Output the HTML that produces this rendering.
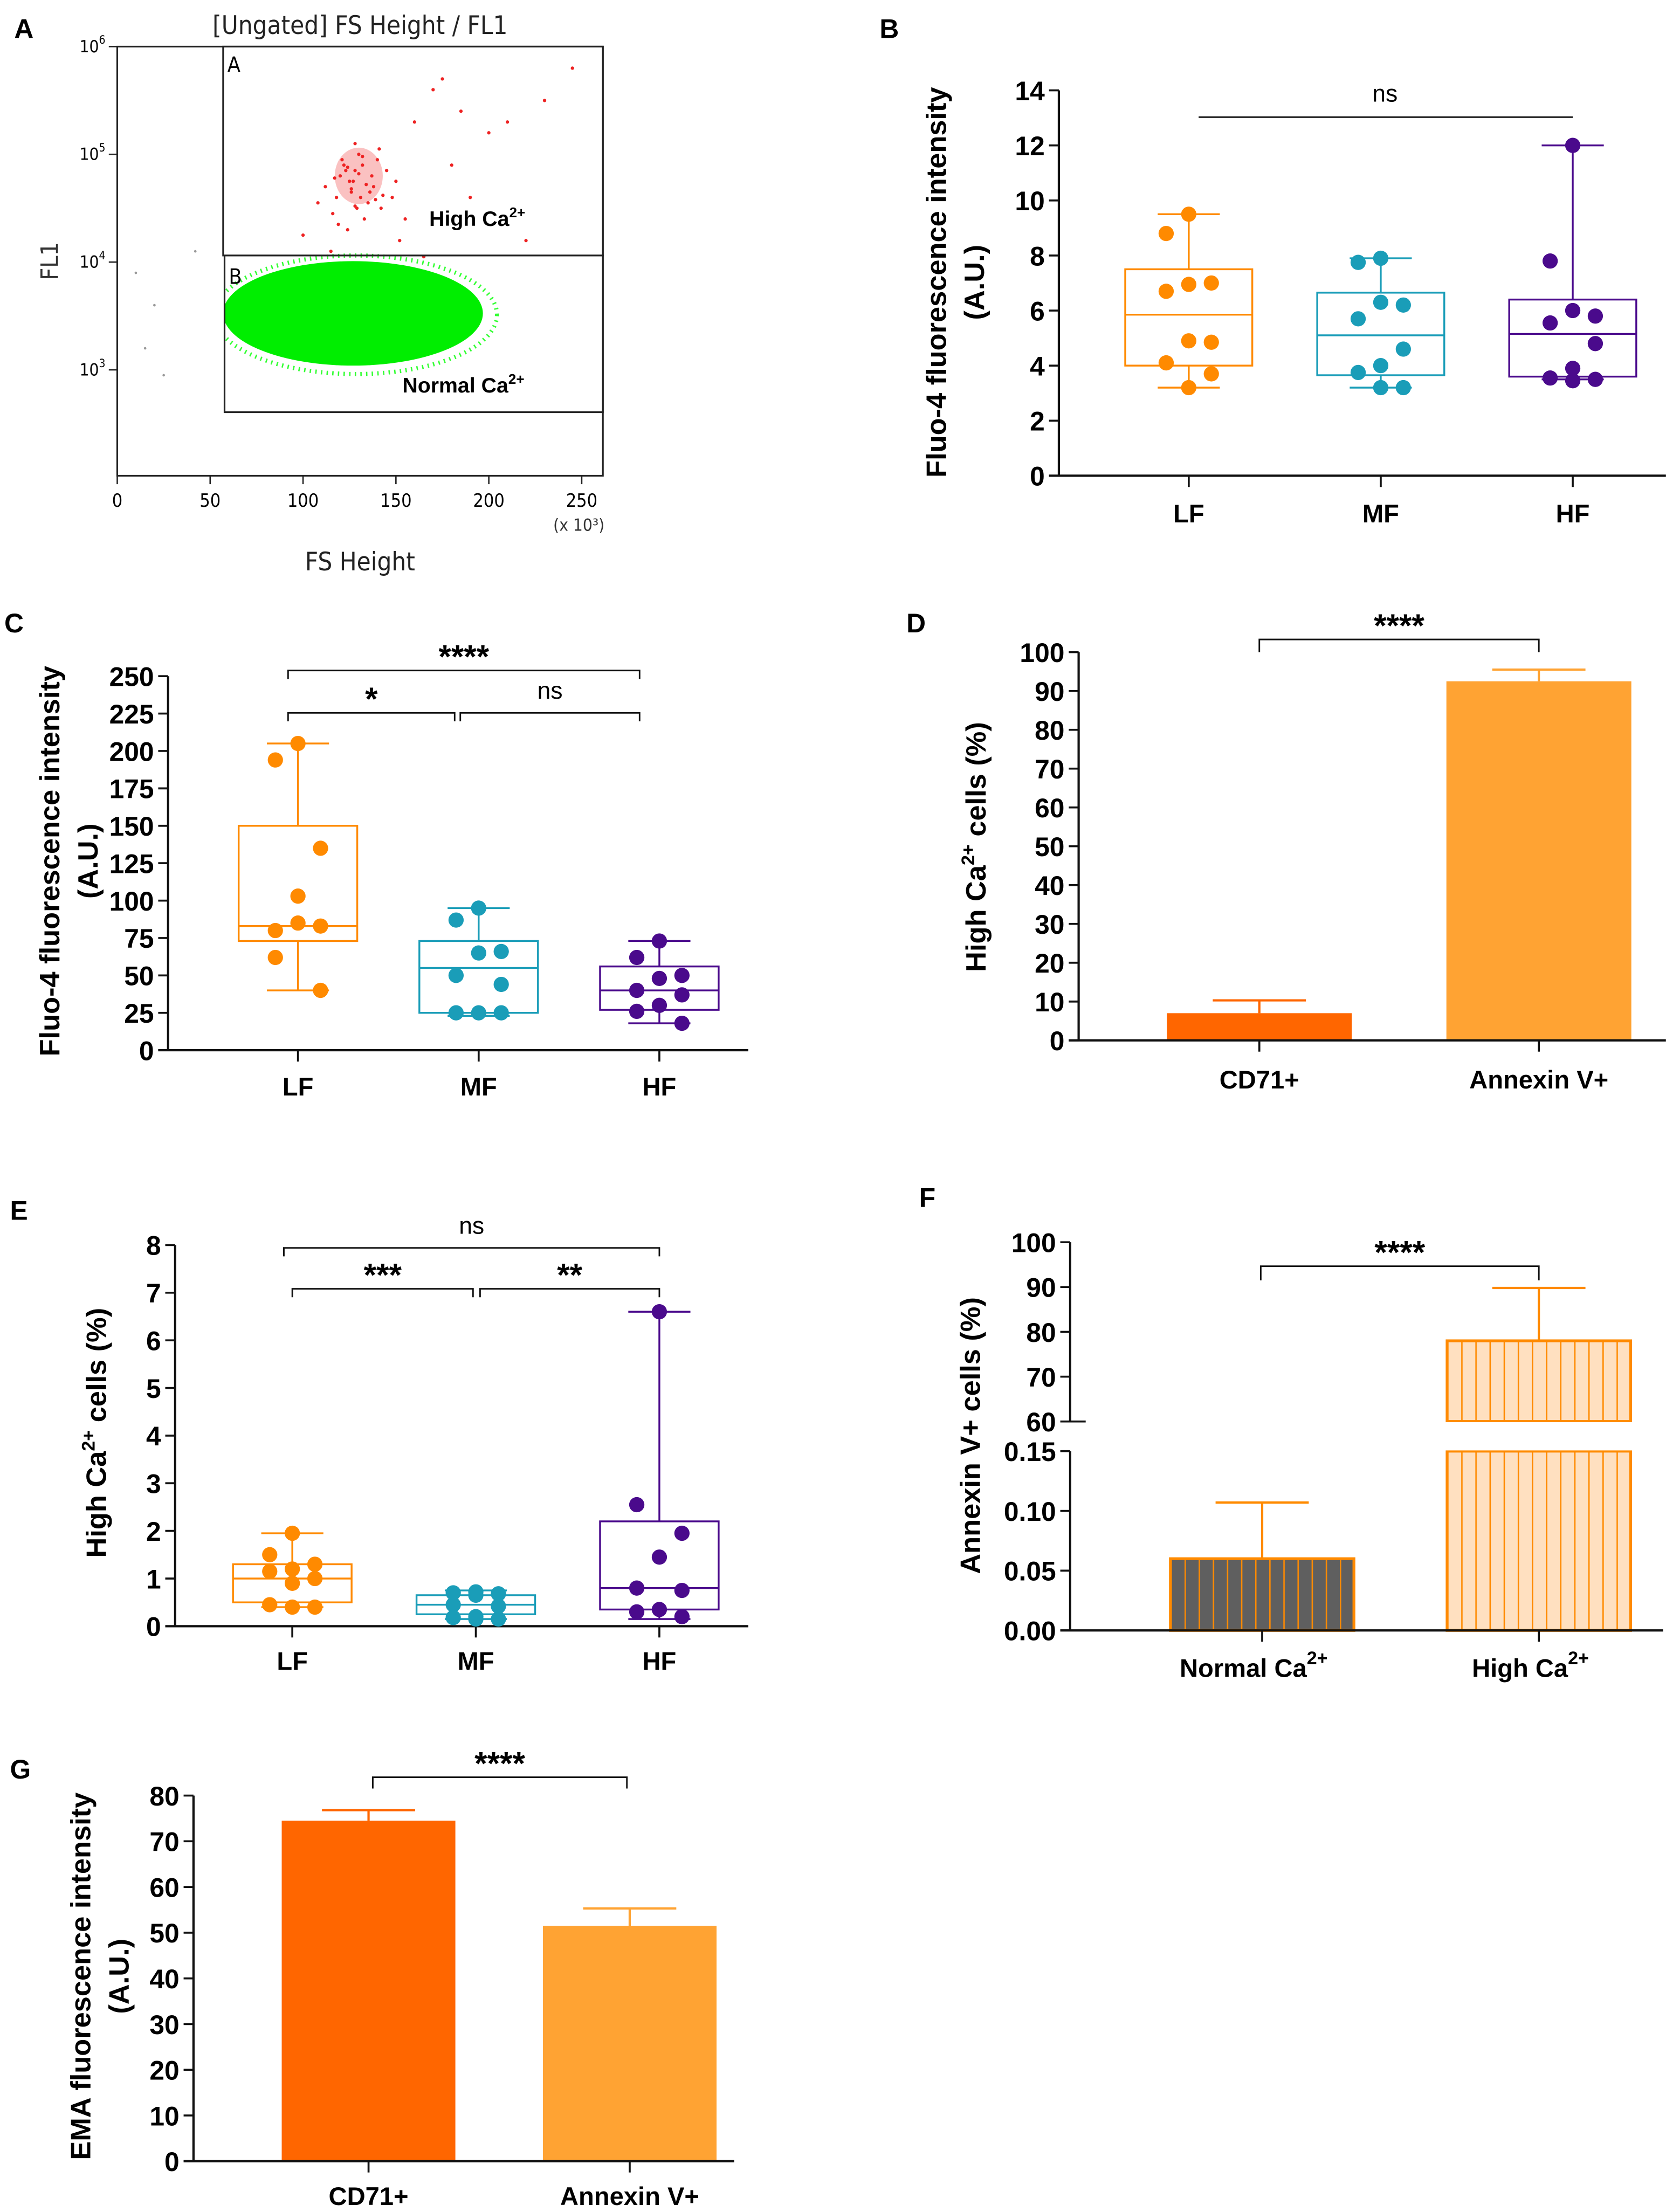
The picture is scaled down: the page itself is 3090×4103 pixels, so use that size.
<!DOCTYPE html>
<html><head><meta charset="utf-8">
<style>
html,body{margin:0;padding:0;background:#fff;}
svg{display:block;}
text{font-family:"Liberation Sans",sans-serif;}
.tick{font-family:"Liberation Sans Narrow","Liberation Sans",sans-serif;font-weight:bold;font-size:19px;}
.cat{font-family:"Liberation Sans",sans-serif;font-weight:bold;font-size:18px;}
.ytitle{font-weight:bold;font-size:20px;}
.letter{font-weight:bold;font-size:19px;}
.sig{font-size:17px;}
.ast{font-size:23px;font-weight:bold;}
.flow{font-family:"DejaVu Sans Condensed","DejaVu Sans",sans-serif;}
</style></head>
<body>
<svg id="fig" width="3090" height="4103" viewBox="0 0 1180 1567" xmlns="http://www.w3.org/2000/svg">
<rect x="0" y="0" width="1180" height="1567" fill="#fff"/>
<g id="pA">
  <text class="letter" x="10" y="27">A</text>
  <text class="flow" x="255" y="24" font-size="18" text-anchor="middle" fill="#222">[Ungated] FS Height / FL1</text>
  <text class="flow" x="41" y="185" font-size="17" text-anchor="middle" fill="#333" transform="rotate(-90 41 185)">FL1</text>
  <text class="flow" x="255" y="404" font-size="18" text-anchor="middle" fill="#222">FS Height</text>
  <text class="flow" x="410" y="376" font-size="12" text-anchor="middle" fill="#333">(x 10³)</text>
</g>
<g id="pB"><text class="letter" x="623" y="27">B</text></g>
<g id="pC"><text class="letter" x="3" y="448">C</text></g>
<g id="pD"><text class="letter" x="642" y="448">D</text></g>
<g id="pE"><text class="letter" x="7" y="864">E</text></g>
<g id="pF"><text class="letter" x="651" y="855">F</text></g>
<g id="pG"><text class="letter" x="7" y="1260">G</text></g>
</svg>
<script>
// ---------- data ----------
const flowXTicks = [0, 50, 100, 150, 200, 250];
const flowYDecades = [3, 4, 5, 6];
const redX = [128,132,125,120,138,140,118,145,130,126,135,112,150,142,122,116,148,155,108,128,133,137,124,119,141,152,100,160,170,175,185,200,210,230,245,180,190,220,115,165,127,131,129,136,123,121,134,139,126,130,117,143,128,132,124];
const redY = [4.85,4.9,4.75,4.8,4.7,4.95,4.6,4.85,5.0,4.65,4.55,4.7,4.75,4.5,4.9,4.45,4.6,4.4,4.55,5.1,4.4,4.8,4.3,4.35,5.05,4.2,4.25,5.3,5.6,5.7,5.4,5.2,5.3,5.5,5.8,4.9,4.6,4.2,4.1,4.05,4.75,4.6,4.5,4.65,4.85,4.95,4.72,4.58,4.68,4.82,4.78,4.62,4.52,4.98,4.88];
const greyX = [10,20,30,35,40,45,48,52,55,42,38,25,15,50,53,46];
const greyY = [3.9,3.6,3.55,3.75,3.85,3.7,3.5,3.8,3.65,4.1,3.3,2.95,3.2,3.45,3.95,3.6];

const bCats = ["LF","MF","HF"];
const bTicks = [0,2,4,6,8,10,12,14];
const bStats = [[3.2,4.0,5.85,7.5,9.5],[3.2,3.65,5.1,6.65,7.9],[3.5,3.6,5.15,6.4,12.0]];
const bLF = [9.5,8.8,7.0,6.95,6.7,4.85,4.9,4.1,3.7,3.2];
const bMF = [7.9,7.75,6.2,6.3,5.7,4.6,4.0,3.75,3.2,3.2];
const bHF = [12.0,7.8,5.8,6.0,5.55,4.8,3.9,3.55,3.5,3.45];

const cCats = ["LF","MF","HF"];
const cTicks = [0,25,50,75,100,125,150,175,200,225,250];
const cStats = [[40,73,83,150,205],[23,25,55,73,95],[18,27,40,56,73]];
const cLF = [205,194,135,103,80,83,85,62,40];
const cMF = [95,87,66,65,50,44,25,25,25];
const cHF = [73,62,50,48,40,37,30,26,18];

const dCats = ["CD71+","Annexin V+"];
const dTicks = [0,10,20,30,40,50,60,70,80,90,100];
const dVals = [7,92.5];
const dErr = [10.3,95.5];

const eCats = ["LF","MF","HF"];
const eTicks = [0,1,2,3,4,5,6,7,8];
const eStats = [[0.4,0.5,1.0,1.3,1.95],[0.15,0.25,0.45,0.65,0.75],[0.15,0.35,0.8,2.2,6.6]];
const eLF = [1.95,1.5,1.3,1.2,1.15,1.0,0.9,0.45,0.4,0.4];
const eMF = [0.72,0.7,0.68,0.65,0.45,0.42,0.2,0.18,0.15,0.15];
const eHF = [6.6,2.55,1.95,1.45,0.8,0.75,0.35,0.3,0.2];

const fCats = ["Normal Ca","High Ca"];
const fTicksTop = [60,70,80,90,100];
const fTicksBot = [0.00,0.05,0.10,0.15];
const fVals = [0.06,78];
const fErr = [0.107,89.8];

const gCats = ["CD71+","Annexin V+"];
const gTicks = [0,10,20,30,40,50,60,70,80];
const gVals = [74.5,51.5];
const gErr = [76.8,55.3];

// ---------- helpers ----------
const NS = "http://www.w3.org/2000/svg";
function mk(tag, attrs, parent){
  const e = document.createElementNS(NS, tag);
  for (const k in attrs) e.setAttribute(k, attrs[k]);
  parent.appendChild(e);
  return e;
}
function txt(parent, x, y, s, cls, anchor){
  const t = mk("text", {x:x, y:y, class:cls, "text-anchor":anchor||"middle"}, parent);
  t.textContent = s;
  return t;
}
function lin(a, b, pa, pb){ return v => pa + (v - a) * (pb - pa) / (b - a); }

// ---------- Panel A ----------
(function(){
  const g = document.getElementById("pA");
  const X = lin(0, 250, 83, 412);
  const Y = lin(3, 6, 262, 33);
  const ax = mk("path", {d:"M83,33 V337 H427 V33 Z", fill:"none", stroke:"#222", "stroke-width":1.2}, g);
  
  
  flowXTicks.forEach(v => {
    const t = mk("line", {x1:X(v), x2:X(v), y1:337, y2:343, stroke:"#222"}, g);
    
    
    const l = txt(g, X(v), 359, String(v), "flow", "middle");
    l.setAttribute("font-size", "13");
    
    
  });
  flowYDecades.forEach(d => {
    const t = mk("line", {x1:77, x2:83, y1:Y(d), y2:Y(d), stroke:"#222"}, g);
    
    
    const l = txt(g, 70, Y(d) + 4, "10", "flow", "end");
    l.setAttribute("font-size", "12");
    
    
    const s = txt(g, 70, Y(d) - 2, String(d), "flow", "start");
    s.setAttribute("font-size", "8");
    
    
  });
  greyX.forEach((x, i) => {
    const c = mk("circle", {cx:X(x), cy:Y(greyY[i]), r:0.9, fill:"#999"}, g);
    
    
  });
  const gr2 = mk("ellipse", {cx:252, cy:223, rx:100, ry:42, fill:"none", stroke:"#33ff33", "stroke-width":3, "stroke-dasharray":"1 3"}, g);
  
  
  const gr = mk("ellipse", {cx:250, cy:222, rx:92, ry:37, fill:"#00ee00"}, g);
  
  
  const grc = mk("rect", {x:120, y:180, width:39, height:90, fill:"#fff"}, g);
  
  
  const cl = mk("ellipse", {cx:X(130), cy:Y(4.8), rx:17, ry:20, fill:"#e33", opacity:0.3}, g);
  
  
  redX.forEach((x, i) => {
    const c = mk("circle", {cx:X(x), cy:Y(redY[i]), r:1.2, fill:"#ee2222"}, g);
    
    
  });
  const gA = mk("rect", {x:158, y:33, width:269, height:148, fill:"none", stroke:"#222", "stroke-width":1.2}, g);
  
  
  const gB = mk("rect", {x:159, y:181, width:268, height:111, fill:"none", stroke:"#222", "stroke-width":1.2}, g);
  
  
  const la = txt(g, 161, 51, "A", "flow", "start"); la.setAttribute("font-size","15");
  
  
  const lb = txt(g, 162, 201, "B", "flow", "start"); lb.setAttribute("font-size","15");
  
  
  const h = mk("text", {x:304, y:160, "font-size":15, "font-weight":"bold"}, g);
  h.innerHTML = 'High Ca<tspan dy="-6" font-size="10">2+</tspan>';
  
  
  const n = mk("text", {x:285, y:278, "font-size":15, "font-weight":"bold"}, g);
  n.innerHTML = 'Normal Ca<tspan dy="-6" font-size="10">2+</tspan>';
  
  
})();

// ---------- generic axis ----------
function yAxis(g, x, ticks, Y, fmt, yTop, yBot){
  const a = mk("line", {x1:x, x2:x, y1:yTop, y2:yBot, stroke:"#111", "stroke-width":1.6}, g);
  
  
  ticks.forEach(v => {
    const t = mk("line", {x1:x - 7, x2:x, y1:Y(v), y2:Y(v), stroke:"#111", "stroke-width":1.4}, g);
    
    
    const l = txt(g, x - 10, Y(v) + 7, fmt ? fmt(v) : String(v), "tick", "end");
    
    
  });
}
function xAxis(g, x0, x1, y, cats, X, labelY){
  const a = mk("line", {x1:x0, x2:x1, y1:y, y2:y, stroke:"#111", "stroke-width":1.6}, g);
  
  
  cats.forEach((c, i) => {
    const t = mk("line", {x1:X(i), x2:X(i), y1:y, y2:y + 8, stroke:"#111", "stroke-width":1.4}, g);
    
    
    if (labelY) {
      const l = txt(g, X(i), labelY, c, "cat", "middle");
      
      
    }
  });
}
function yTitle(g, x, cy, s){
  const t = mk("text", {x:x, y:cy, class:"ytitle", "text-anchor":"middle", transform:"rotate(-90 "+x+" "+cy+")"}, g);
  t.innerHTML = s;
  
  
  return t;
}
const offs = [0,-16,16,0,-16,16,0,-16,16,0];
function boxplot(g, cx, st, pts, Y, color, hw, name){
  const w1 = mk("line", {x1:cx, x2:cx, y1:Y(st[0]), y2:Y(st[4]), stroke:color, "stroke-width":1.3}, g);
  
  
  [st[0], st[4]].forEach(v => {
    const c = mk("line", {x1:cx - 22, x2:cx + 22, y1:Y(v), y2:Y(v), stroke:color, "stroke-width":1.3}, g);
    
    
  });
  const b = mk("rect", {x:cx - hw, y:Y(st[3]), width:hw * 2, height:Y(st[1]) - Y(st[3]), fill:"#fff", stroke:color, "stroke-width":1.3}, g);
  
  
  const m = mk("line", {x1:cx - hw, x2:cx + hw, y1:Y(st[2]), y2:Y(st[2]), stroke:color, "stroke-width":1.3}, g);
  
  
  pts.forEach((v, i) => {
    const p = mk("circle", {cx:cx + offs[i % offs.length], cy:Y(v), r:5.4, fill:color}, g);
    
    
  });
}
function bracket(g, x0, x1, y, label, drop){
  const p = mk("path", {d:"M"+x0+","+(y+drop)+" V"+y+" H"+x1+" V"+(y+drop), fill:"none", stroke:"#111", "stroke-width":1.1}, g);
  
  
  const isAst = label.indexOf("*") >= 0;
  const t = txt(g, (x0 + x1) / 2, isAst ? y - 2 : y - 10, label, isAst ? "ast" : "sig", "middle");
  
  
}
function bar(g, cx, w, v, e, Y, fill, name, errColor){
  const r = mk("rect", {x:cx - w/2, y:Y(v), width:w, height:Y(0) - Y(v), fill:fill}, g);
  
  
  const l = mk("line", {x1:cx, x2:cx, y1:Y(v), y2:Y(e), stroke:errColor, "stroke-width":1.6}, g);
  
  
  const c = mk("line", {x1:cx - 33, x2:cx + 33, y1:Y(e), y2:Y(e), stroke:errColor, "stroke-width":1.6}, g);
  
  
}
const ORANGE = "#ff8a00", TEAL = "#1a9db8", PURPLE = "#4a0a8c";

// ---------- Panel B ----------
(function(){
  const g = document.getElementById("pB");
  const Y = lin(0, 14, 337, 64);
  const X = i => 842 + i * 136;
  yAxis(g, 750, bTicks, Y, null, 64, 337);
  xAxis(g, 743, 1180, 337, bCats, X, 370);
  yTitle(g, 670, 200, "Fluo-4 fluorescence intensity");
  yTitle(g, 697, 200, "(A.U.)");
  boxplot(g, X(0), bStats[0], bLF, Y, ORANGE, 45, "lf");
  boxplot(g, X(1), bStats[1], bMF, Y, TEAL, 45, "mf");
  boxplot(g, X(2), bStats[2], bHF, Y, PURPLE, 45, "hf");
  bracket(g, 849, 1114, 83, "", 0);
  const t = txt(g, 981, 72, "ns", "sig", "middle");
  
  
})();

// ---------- Panel C ----------
(function(){
  const g = document.getElementById("pC");
  const Y = lin(0, 250, 744, 479);
  const X = i => 211 + i * 128;
  yAxis(g, 119, cTicks, Y, null, 479, 744);
  xAxis(g, 112, 530, 744, cCats, X, 776);
  yTitle(g, 42, 610, "Fluo-4 fluorescence intensity");
  yTitle(g, 69, 610, "(A.U.)");
  boxplot(g, X(0), cStats[0], cLF, Y, ORANGE, 42, "lf");
  boxplot(g, X(1), cStats[1], cMF, Y, TEAL, 42, "mf");
  boxplot(g, X(2), cStats[2], cHF, Y, PURPLE, 42, "hf");
  bracket(g, 204, 453, 475, "****", 6);
  bracket(g, 204, 322, 505, "*", 6);
  bracket(g, 326, 453, 505, "ns", 6);
})();

// ---------- Panel D ----------
(function(){
  const g = document.getElementById("pD");
  const Y = lin(0, 100, 737, 462);
  const X = i => 892 + i * 198;
  bar(g, X(0), 131, dVals[0], dErr[0], Y, "#ff6600", "cd71", "#ff6600");
  bar(g, X(1), 131, dVals[1], dErr[1], Y, "#ffa333", "annexin", "#ffa333");
  yAxis(g, 764, dTicks, Y, null, 462, 737);
  xAxis(g, 757, 1180, 737, dCats, X, 771);
  yTitle(g, 698, 600, 'High Ca<tspan dy="-8" font-size="13">2+</tspan><tspan dy="8"> cells (%)</tspan>');
  bracket(g, 892, 1090, 453, "****", 9);
})();

// ---------- Panel E ----------
(function(){
  const g = document.getElementById("pE");
  const Y = lin(0, 8, 1152, 882);
  const X = i => 207 + i * 130;
  yAxis(g, 124, eTicks, Y, null, 882, 1152);
  xAxis(g, 117, 530, 1152, eCats, X, 1183);
  yTitle(g, 75, 1015, 'High Ca<tspan dy="-8" font-size="13">2+</tspan><tspan dy="8"> cells (%)</tspan>');
  boxplot(g, X(0), eStats[0], eLF, Y, ORANGE, 42, "lf");
  boxplot(g, X(1), eStats[1], eMF, Y, TEAL, 42, "mf");
  boxplot(g, X(2), eStats[2], eHF, Y, PURPLE, 42, "hf");
  bracket(g, 201, 467, 884, "ns", 6);
  bracket(g, 207, 335, 913, "***", 6);
  bracket(g, 340, 467, 913, "**", 6);
})();

// ---------- Panel F ----------
(function(){
  const g = document.getElementById("pF");
  const Yt = lin(60, 100, 1007, 880);
  const Yb = lin(0, 0.15, 1155, 1028);
  const X = i => 894 + i * 196;
  const w = 130;
  const defs = mk("defs", {}, g);
  const p1 = mk("pattern", {id:"stripeDark", width:10, height:10, patternUnits:"userSpaceOnUse", x:X(0) - w/2}, defs);
  mk("rect", {width:10, height:10, fill:"#5f5f5f"}, p1);
  mk("line", {x1:0, x2:0, y1:0, y2:10, stroke:ORANGE, "stroke-width":2}, p1);
  const p2 = mk("pattern", {id:"stripeLight", width:10, height:10, patternUnits:"userSpaceOnUse", x:X(1) - w/2}, defs);
  mk("rect", {width:10, height:10, fill:"#ffe0c0"}, p2);
  mk("line", {x1:0, x2:0, y1:0, y2:10, stroke:ORANGE, "stroke-width":2}, p2);
  const b0 = mk("rect", {x:X(0) - w/2, y:Yb(fVals[0]), width:w, height:Yb(0) - Yb(fVals[0]), fill:"url(#stripeDark)", stroke:ORANGE, "stroke-width":2}, g);
  
  
  const e0 = mk("path", {d:"M"+X(0)+","+Yb(fVals[0])+" V"+Yb(fErr[0])+" M"+(X(0)-33)+","+Yb(fErr[0])+" H"+(X(0)+33), stroke:ORANGE, "stroke-width":1.6, fill:"none"}, g);
  
  
  const b1a = mk("rect", {x:X(1) - w/2, y:Yb(0.15), width:w, height:Yb(0) - Yb(0.15), fill:"url(#stripeLight)", stroke:ORANGE, "stroke-width":2}, g);
  
  
  const b1b = mk("rect", {x:X(1) - w/2, y:Yt(fVals[1]), width:w, height:Yt(60) - Yt(fVals[1]), fill:"url(#stripeLight)", stroke:ORANGE, "stroke-width":2}, g);
  
  
  const cov = mk("rect", {x:X(1) - w/2 - 2, y:Yt(60) + 0.5, width:w + 4, height:Yb(0.15) - Yt(60) - 1, fill:"#fff"}, g);
  
  
  const e1 = mk("path", {d:"M"+X(1)+","+Yt(fVals[1])+" V"+Yt(fErr[1])+" M"+(X(1)-33)+","+Yt(fErr[1])+" H"+(X(1)+33), stroke:ORANGE, "stroke-width":1.6, fill:"none"}, g);
  
  
  yAxis(g, 758, fTicksTop, Yt, null, 880, 1007);
  yAxis(g, 758, fTicksBot, Yb, v => v.toFixed(2), 1028, 1155);
  const brk = mk("line", {x1:758, x2:769, y1:1007, y2:1007, stroke:"#111", "stroke-width":1.4}, g);
  
  
  xAxis(g, 751, 1178, 1155, fCats, X, null);
  fCats.forEach((c, i) => {
    const t = mk("text", {x:X(i) - 6, y:1188, class:"cat", "text-anchor":"middle"}, g);
    t.innerHTML = c + '<tspan dy="-9" font-size="13">2+</tspan>';
    
    
  });
  yTitle(g, 694, 1017, "Annexin V+ cells (%)");
  bracket(g, 893, 1090, 897, "****", 10);
})();

// ---------- Panel G ----------
(function(){
  const g = document.getElementById("pG");
  const Y = lin(0, 80, 1531, 1272);
  const X = i => 261 + i * 185;
  bar(g, X(0), 123, gVals[0], gErr[0], Y, "#ff6600", "cd71", "#ff6600");
  bar(g, X(1), 123, gVals[1], gErr[1], Y, "#ffa333", "annexin", "#ffa333");
  yAxis(g, 137, gTicks, Y, null, 1272, 1531);
  xAxis(g, 130, 520, 1531, gCats, X, 1562);
  yTitle(g, 64, 1400, "EMA fluorescence intensity");
  yTitle(g, 91, 1400, "(A.U.)");
  bracket(g, 264, 444, 1259, "****", 8);
})();
</script>
</body></html>
